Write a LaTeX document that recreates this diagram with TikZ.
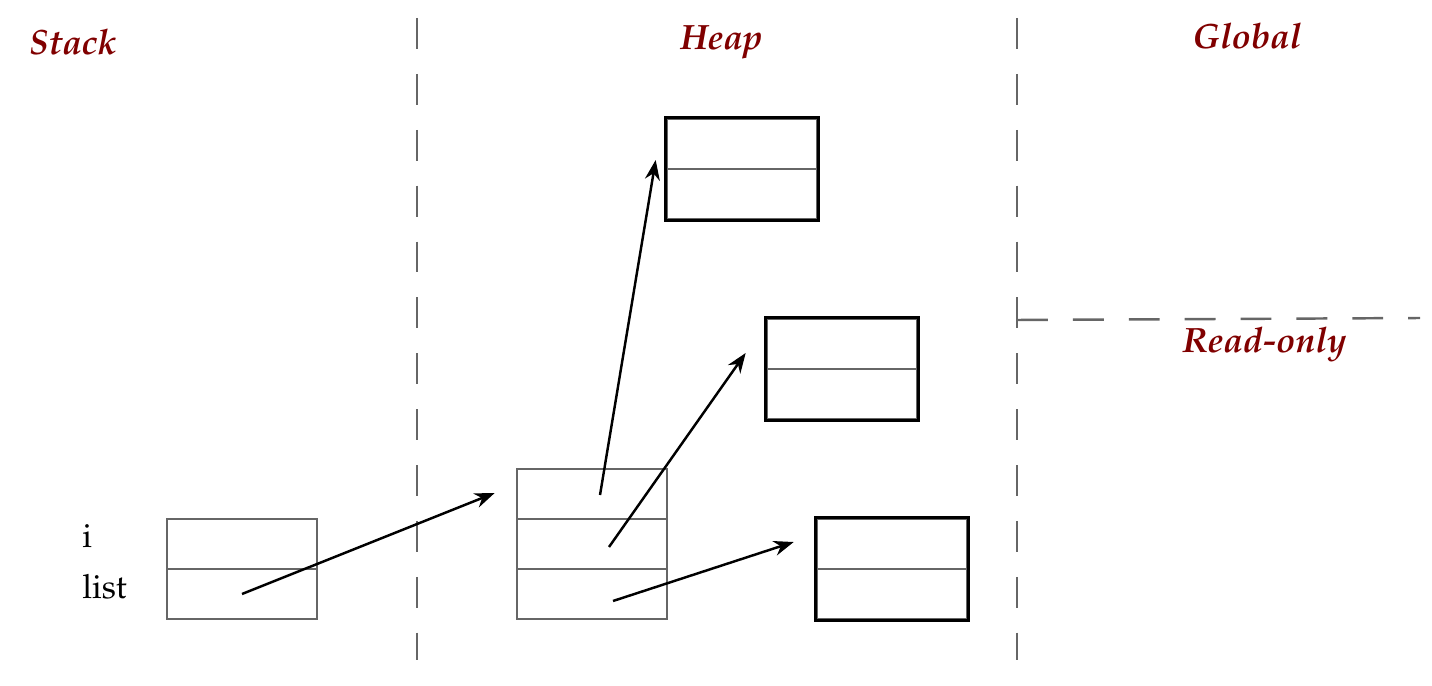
\documentclass[tikz,border=0pt]{standalone}
\usepackage[T1]{fontenc}
\usepackage{mathpazo}
\usepackage{tikz}
\usetikzlibrary{arrows.meta}
\definecolor{region}{HTML}{800000}
\definecolor{wall}{HTML}{666666}

\begin{document}
\begin{tikzpicture}[x=1cm, y=-1cm, line width=1.5pt,
        every node/.append style={font=\fontsize{19}{23}\selectfont},
        ptr/.style={-{Stealth[length=4mm,width=3mm]}, black, line width=1.4pt}]
      \tikzstyle{cell} = [draw=wall, minimum width=3cm, minimum height=1cm, inner sep=0pt]
      \tikzstyle{area} = [color=region, font=\fontsize{20}{24}\selectfont\bfseries\itshape, anchor=base]
      \tikzstyle{var} = [anchor=base west, inner sep=0pt]
      \tikzstyle{divider} = [draw=wall, dash pattern=on 17.6pt off 14.2pt, line width=1.4pt]
      \useasboundingbox (-0.34,-0.38) rectangle (28.3,13.34);
      % regions
      \draw[divider] (8,-0.02) -- (8,12.82);
      \draw[divider] (20,-0.02) -- (20,12.82);
      \draw[divider] (20,6.02) -- (28.06,5.98);
      \node (stack) [area] at (1.12,0.72) {Stack};
      \node (heap) [area] at (14.09,0.62) {Heap};
      \node (global) [area] at (24.6,0.6) {Global};
      \node (readonly) [area] at (24.95,6.68) {Read-only};
      % stack frame
      \node (s-i) [cell] at (4.5,10.5) {};
      \node (s-list) [cell] at (4.5,11.5) {};
      \node (l-i) [var] at (1.28,10.56) {i};
      \node (l-list) [var] at (1.28,11.58) {list};
      % list on the heap
      \node (h-1) [cell] at (11.5,9.5) {};
      \node (h-2) [cell] at (11.5,10.5) {};
      \node (h-3) [cell] at (11.5,11.5) {};
      % elements
      \node (a-1) [cell] at (14.5,2.5) {};
      \node (a-2) [cell] at (14.5,3.5) {};
      \node (b-1) [cell] at (16.5,6.5) {};
      \node (b-2) [cell] at (16.5,7.5) {};
      \node (c-1) [cell] at (17.5,10.5) {};
      \node (c-2) [cell] at (17.5,11.5) {};
      \draw[line width=2pt] (a-1.north west) rectangle (a-2.south east);
      \draw[line width=2pt] (b-1.north west) rectangle (b-2.south east);
      \draw[line width=2pt] (c-1.north west) rectangle (c-2.south east);
      % pointers
      \draw[ptr] (s-list.center) -- ([xshift=-0.42cm,yshift=0.02cm]h-1.west);
      \draw[ptr] ([xshift=0.16cm,yshift=-0.02cm]h-1.center) -- ([xshift=-0.2cm,yshift=-0.32cm]a-1.west);
      \draw[ptr] ([xshift=0.34cm,yshift=-0.06cm]h-2.center) -- ([xshift=-0.4cm,yshift=-0.18cm]b-1.west);
      \draw[ptr] ([xshift=0.42cm,yshift=-0.14cm]h-3.center) -- ([xshift=-0.44cm,yshift=0.04cm]c-1.west);
\end{tikzpicture}
\end{document}
